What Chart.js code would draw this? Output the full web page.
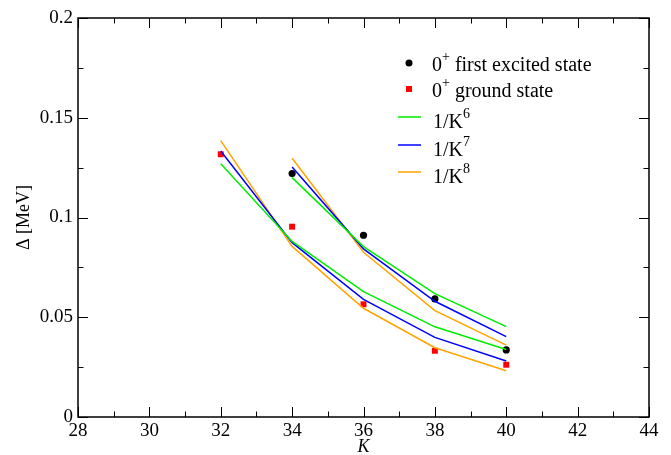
<!DOCTYPE html>
<html>
<head>
<meta charset="utf-8">
<script src="https://cdn.jsdelivr.net/npm/chart.js@4"></script>
<style>
  html,body{margin:0;padding:0;background:#fff;}
  canvas{display:block;}
</style>
</head>
<body>
<canvas id="gapChart" width="671" height="455"></canvas>
<script>
// K values for the two families of points
const kExcited = [34, 36, 38, 40];
const kGround = [32, 34, 36, 38, 40];

// measured gaps (MeV)
const excitedGap = [0.122, 0.0911, 0.0592, 0.0336];
const groundGap = [0.1317, 0.0954, 0.0565, 0.0332, 0.0262];

// power-law fits through the ground-state points
const groundFit6 = [0.127, 0.088, 0.0628, 0.0452, 0.0338];
const groundFit7 = [0.1333, 0.0874, 0.0590, 0.0399, 0.0281];
const groundFit8 = [0.1385, 0.0855, 0.0545, 0.0347, 0.0232];

// power-law fits through the excited-state points
const excitedFit6 = [0.120, 0.0854, 0.0618, 0.0453];
const excitedFit7 = [0.1253, 0.0843, 0.0580, 0.0403];
const excitedFit8 = [0.1297, 0.0826, 0.0533, 0.0360];

// axis ticks
const xTicks = [28, 30, 32, 34, 36, 38, 40, 42, 44];
const yTicks = [0, 0.05, 0.1, 0.15, 0.2];

// legend entries: main text + superscript
const legendItems = [
  {text: '0', sup: '+', rest: ' first excited state', kind: 'dot', color: '#000'},
  {text: '0', sup: '+', rest: ' ground state', kind: 'square', color: '#ff0000'},
  {text: '1/K', sup: '6', rest: '', kind: 'line', color: '#00ee00'},
  {text: '1/K', sup: '7', rest: '', kind: 'line', color: '#0000ff'},
  {text: '1/K', sup: '8', rest: '', kind: 'line', color: '#ffa500'}
];

const SERIF = '"Liberation Serif", "DejaVu Serif", serif';

function pts(xs, ys){ return xs.map((x,i)=>({x:x, y:ys[i]})); }

function fitLine(xs, ys, color){
  return {data: pts(xs, ys), showLine: true, borderColor: color, borderWidth: 1.5,
          pointRadius: 0, fill: false, tension: 0};
}

// frame, inner ticks, axis titles and legend
const framePlugin = {
  id: 'frame',
  afterDraw(chart){
    const ctx = chart.ctx;
    const a = chart.chartArea;
    const xs = chart.scales.x, ys = chart.scales.y;
    ctx.save();
    ctx.strokeStyle = '#000';
    ctx.lineWidth = 1.5;
    ctx.strokeRect(a.left, a.top, a.right - a.left, a.bottom - a.top);

    ctx.lineWidth = 1;
    ctx.beginPath();
    for(let k = 28; k <= 44; k++){
      const px = Math.round(xs.getPixelForValue(k)) + 0.5;
      const len = (k % 2 === 0) ? 10 : 5.5;
      ctx.moveTo(px, a.bottom); ctx.lineTo(px, a.bottom - len);
      ctx.moveTo(px, a.top); ctx.lineTo(px, a.top + len);
    }
    for(let i = 0; i <= 8; i++){
      const py = Math.round(ys.getPixelForValue(i * 0.025)) + 0.5;
      const len = (i % 2 === 0) ? 10 : 5.5;
      ctx.moveTo(a.left, py); ctx.lineTo(a.left + len, py);
      ctx.moveTo(a.right, py); ctx.lineTo(a.right - len, py);
    }
    ctx.stroke();

    // axis titles
    ctx.fillStyle = '#000';
    ctx.textAlign = 'center';
    ctx.textBaseline = 'middle';
    ctx.font = 'italic 18px ' + SERIF;
    ctx.fillText('K', (a.left + a.right) / 2, 447);
    ctx.save();
    ctx.translate(24, (a.top + a.bottom) / 2);
    ctx.rotate(-Math.PI / 2);
    ctx.font = '18px ' + SERIF;
    ctx.fillText('\u0394 [MeV]', 0, 0);
    ctx.restore();

    // legend
    const rowY = [63, 89, 117, 145, 172];
    ctx.textAlign = 'left';
    ctx.textBaseline = 'alphabetic';
    legendItems.forEach((it, i)=>{
      const y = rowY[i];
      ctx.fillStyle = it.color;
      ctx.strokeStyle = it.color;
      if(it.kind === 'dot'){
        ctx.beginPath(); ctx.arc(409, y, 3.5, 0, Math.PI * 2); ctx.fill();
      } else if(it.kind === 'square'){
        ctx.fillRect(406, y - 3, 6, 6);
      } else {
        ctx.lineWidth = 1.5;
        ctx.beginPath(); ctx.moveTo(398, y); ctx.lineTo(421, y); ctx.stroke();
      }
      ctx.fillStyle = '#000';
      const tx = it.kind === 'line' ? 433 : 432;
      const base = y + (it.kind === 'line' ? 11 : 8);
      ctx.font = '20px ' + SERIF;
      ctx.fillText(it.text, tx, base);
      let x = tx + ctx.measureText(it.text).width;
      ctx.font = '14px ' + SERIF;
      ctx.fillText(it.sup, x, base - 10);
      x += ctx.measureText(it.sup).width;
      ctx.font = '20px ' + SERIF;
      ctx.fillText(it.rest, x, base);
    });
    ctx.restore();
  }
};

new Chart(document.getElementById('gapChart'), {
  type: 'scatter',
  data: {
    datasets: [
      fitLine(kGround, groundFit6, '#00ee00'),
      fitLine(kGround, groundFit7, '#0000ff'),
      fitLine(kGround, groundFit8, '#ffa500'),
      fitLine(kExcited, excitedFit6, '#00ee00'),
      fitLine(kExcited, excitedFit7, '#0000ff'),
      fitLine(kExcited, excitedFit8, '#ffa500'),
      {data: pts(kExcited, excitedGap), pointStyle: 'circle', pointRadius: 3.6,
       backgroundColor: '#000', borderColor: '#000', borderWidth: 0, showLine: false},
      {data: pts(kGround, groundGap), pointStyle: 'rect', pointRadius: 4.2,
       backgroundColor: '#ff0000', borderColor: '#ff0000', borderWidth: 0, showLine: false}
    ]
  },
  options: {
    responsive: false,
    animation: false,
    layout: {padding: {left: 0, right: 22, top: 18, bottom: 0}},
    plugins: {legend: {display: false}, tooltip: {enabled: false}},
    scales: {
      x: {
        type: 'linear', min: 28, max: 44,
        afterBuildTicks: s => { s.ticks = xTicks.map(v => ({value: v})); },
        ticks: {color: '#000', font: {family: SERIF, size: 19}, padding: 3, maxRotation: 0,
                callback: v => String(v)},
        grid: {display: false, drawTicks: false},
        border: {display: false},
        afterFit: s => { s.height = 38; }
      },
      y: {
        type: 'linear', min: 0, max: 0.2,
        afterBuildTicks: s => { s.ticks = yTicks.map(v => ({value: v})); },
        ticks: {color: '#000', font: {family: SERIF, size: 19}, padding: 5,
                callback: v => String(+v.toFixed(3))},
        grid: {display: false, drawTicks: false},
        border: {display: false},
        afterFit: s => { s.width = 78; }
      }
    }
  },
  plugins: [framePlugin]
});
</script>
</body>
</html>
